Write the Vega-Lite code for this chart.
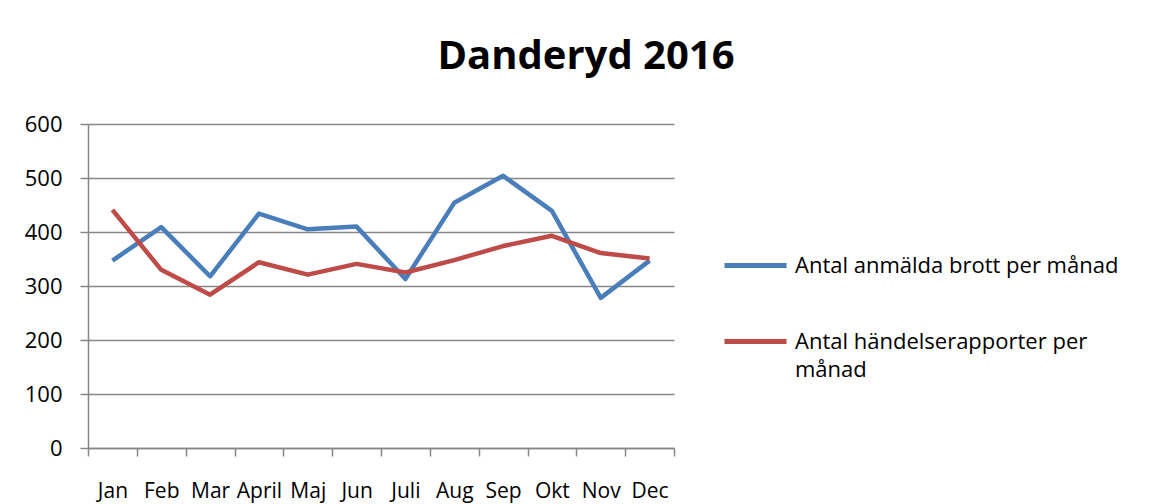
{
  "$schema": "https://vega.github.io/schema/vega-lite/v6.json",
  "width": 586,
  "height": 324,
  "autosize": "none",
  "padding": {"left": 88, "top": 124, "right": 480, "bottom": 56},
  "background": "white",
  "title": {
    "text": "Danderyd 2016",
    "anchor": "middle",
    "frame": "group",
    "dx": 205,
    "offset": 4,
    "baseline": "alphabetic",
    "font": "Open Sans",
    "fontSize": 40,
    "fontWeight": "bold",
    "color": "#000000"
  },
  "data": {
    "values": [
      {"month": "Jan", "series": "Antal anmälda brott per månad", "value": 347},
      {"month": "Feb", "series": "Antal anmälda brott per månad", "value": 409},
      {"month": "Mar", "series": "Antal anmälda brott per månad", "value": 318},
      {"month": "April", "series": "Antal anmälda brott per månad", "value": 434},
      {"month": "Maj", "series": "Antal anmälda brott per månad", "value": 405},
      {"month": "Jun", "series": "Antal anmälda brott per månad", "value": 410},
      {"month": "Juli", "series": "Antal anmälda brott per månad", "value": 313},
      {"month": "Aug", "series": "Antal anmälda brott per månad", "value": 454},
      {"month": "Sep", "series": "Antal anmälda brott per månad", "value": 504},
      {"month": "Okt", "series": "Antal anmälda brott per månad", "value": 439},
      {"month": "Nov", "series": "Antal anmälda brott per månad", "value": 278},
      {"month": "Dec", "series": "Antal anmälda brott per månad", "value": 347},
      {"month": "Jan", "series": "Antal händelserapporter per månad", "value": 441},
      {"month": "Feb", "series": "Antal händelserapporter per månad", "value": 330},
      {"month": "Mar", "series": "Antal händelserapporter per månad", "value": 284},
      {"month": "April", "series": "Antal händelserapporter per månad", "value": 344},
      {"month": "Maj", "series": "Antal händelserapporter per månad", "value": 321},
      {"month": "Jun", "series": "Antal händelserapporter per månad", "value": 341},
      {"month": "Juli", "series": "Antal händelserapporter per månad", "value": 325},
      {"month": "Aug", "series": "Antal händelserapporter per månad", "value": 348},
      {"month": "Sep", "series": "Antal händelserapporter per månad", "value": 374},
      {"month": "Okt", "series": "Antal händelserapporter per månad", "value": 393},
      {"month": "Nov", "series": "Antal händelserapporter per månad", "value": 361},
      {"month": "Dec", "series": "Antal händelserapporter per månad", "value": 351}
    ]
  },
  "mark": {"type": "line", "strokeWidth": 4.5, "strokeJoin": "round", "strokeCap": "butt"},
  "encoding": {
    "x": {
      "field": "month",
      "type": "ordinal",
      "sort": ["Jan", "Feb", "Mar", "April", "Maj", "Jun", "Juli", "Aug", "Sep", "Okt", "Nov", "Dec"],
      "bandPosition": 0.5,
      "scale": {"type": "band", "paddingInner": 0, "paddingOuter": 0},
      "axis": {
        "title": null,
        "labelAngle": 0,
        "labelFont": "Open Sans",
        "labelFontSize": 21,
        "labelColor": "#000000",
        "labelOverlap": false,
        "labelBound": false,
        "labelFlush": false,
        "labelBaseline": "alphabetic",
        "labelPadding": 41,
        "tickBand": "extent",
        "tickSize": 8,
        "tickColor": "#868686",
        "tickWidth": 1.5,
        "domainColor": "#868686",
        "domainWidth": 1.5,
        "grid": false
      }
    },
    "y": {
      "field": "value",
      "type": "quantitative",
      "scale": {"domain": [0, 600], "nice": false, "zero": true},
      "axis": {
        "title": null,
        "values": [0, 100, 200, 300, 400, 500, 600],
        "labelFont": "Open Sans",
        "labelFontSize": 22,
        "labelColor": "#000000",
        "labelPadding": 18,
        "tickSize": 8,
        "tickColor": "#868686",
        "tickWidth": 1.5,
        "domainColor": "#868686",
        "domainWidth": 1.5,
        "grid": true,
        "gridColor": "#868686",
        "gridWidth": 1.5
      }
    },
    "color": {
      "field": "series",
      "type": "nominal",
      "scale": {
        "domain": ["Antal anmälda brott per månad", "Antal händelserapporter per månad"],
        "range": ["#4A7EBB", "#BE4B48"]
      },
      "legend": {
        "title": null,
        "orient": "none",
        "legendX": 634,
        "legendY": 108,
        "symbolType": "stroke",
        "symbolSize": 3844,
        "symbolStrokeWidth": 5,
        "labelFont": "Open Sans",
        "labelFontSize": 22,
        "labelColor": "#000000",
        "labelOffset": 6,
        "labelLimit": 400,
        "rowPadding": 31,
        "labelExpr": "datum.label == 'Antal händelserapporter per månad' ? ['Antal händelserapporter per', 'månad'] : datum.label"
      }
    }
  },
  "config": {
    "view": {"stroke": null},
    "font": "Open Sans",
    "style": {"guide-label": {"lineHeight": 28}}
  }
}
